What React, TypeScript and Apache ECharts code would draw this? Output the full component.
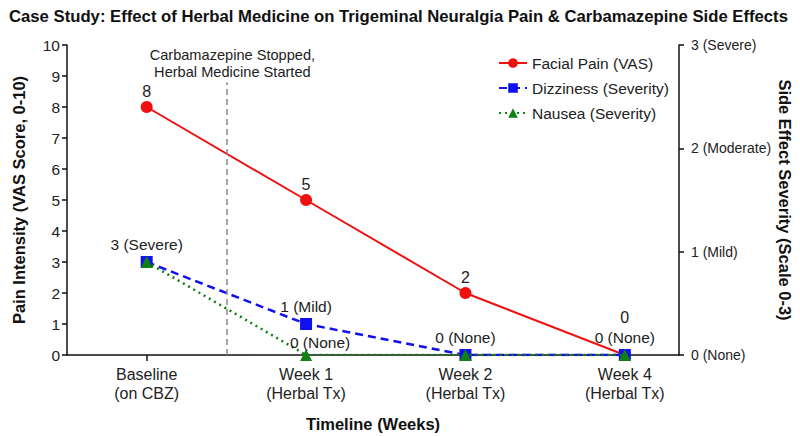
import React, { useEffect, useRef } from "react";
import * as echarts from "echarts";

const categories = ["Baseline\n(on CBZ)", "Week 1\n(Herbal Tx)", "Week 2\n(Herbal Tx)", "Week 4\n(Herbal Tx)"];
const painValues = [8, 5, 2, 0];
const dizzinessValues = [3, 1, 0, 0];
const nauseaValues = [3, 0, 0, 0];
const dizzinessLabels = ["3 (Severe)", "1 (Mild)", "0 (None)", "0 (None)"];
const nauseaLabels = ["", "0 (None)", "", ""];
const leftTicks = [0, 1, 2, 3, 4, 5, 6, 7, 8, 9, 10];
const severityTickLabels = ["0 (None)", "1 (Mild)", "2 (Moderate)", "3 (Severe)"];
const transitionX = 0.5;
const transitionText = "Carbamazepine Stopped,\nHerbal Medicine Started";

const FONT = "Liberation Sans, Arial, Helvetica, sans-serif";

export default function App() {
  const ref = useRef<HTMLDivElement>(null);
  useEffect(() => {
    document.body.style.margin = "0";
    if (!ref.current) return;
    const chart = echarts.init(ref.current, null, { renderer: "svg" });
    const xIdx = categories.map((_, i) => i);
    chart.setOption({
      animation: false,
      backgroundColor: "#fff",
      textStyle: { fontFamily: FONT },
      title: {
        text: "Case Study: Effect of Herbal Medicine on Trigeminal Neuralgia Pain & Carbamazepine Side Effects",
        left: 4,
        top: 3,
        textStyle: { fontFamily: FONT, fontSize: 16.7, fontWeight: "bold", color: "#111" },
      },
      legend: {
        orient: "vertical",
        left: 493,
        top: 50,
        itemWidth: 28,
        itemHeight: 12,
        itemGap: 9,
        textStyle: { fontFamily: FONT, fontSize: 15.5, color: "#222" },
        data: ["Facial Pain (VAS)", "Dizziness (Severity)", "Nausea (Severity)"],
      },
      grid: { left: 67, right: 121, top: 45, bottom: 81, containLabel: false, outerBoundsMode: "none" },
      xAxis: {
        type: "value",
        min: -0.5,
        max: 3.34,
        name: "Timeline (Weeks)",
        nameLocation: "middle",
        nameGap: 60,
        nameTextStyle: { fontFamily: FONT, fontSize: 16.5, fontWeight: "bold", color: "#111" },
        axisLine: { onZero: false, lineStyle: { color: "#111", width: 1.5 } },
        axisTick: { customValues: xIdx, length: 6, lineStyle: { color: "#111", width: 1.5 } },
        axisLabel: {
          customValues: xIdx,
          formatter: (v: number) => categories[Math.round(v)] ?? "",
          fontFamily: FONT,
          fontSize: 16,
          lineHeight: 19,
          color: "#222",
          margin: 10,
        },
        splitLine: { show: false },
      },
      yAxis: [
        {
          type: "value",
          min: 0,
          max: 10,
          interval: 1,
          name: "Pain Intensity (VAS Score, 0-10)",
          nameLocation: "middle",
          nameGap: 40,
          nameTextStyle: { fontFamily: FONT, fontSize: 16.5, fontWeight: "bold", color: "#111" },
          axisLine: { show: true, onZero: false, lineStyle: { color: "#111", width: 1.5 } },
          axisTick: { show: true, length: 5, lineStyle: { color: "#111", width: 1.5 } },
          axisLabel: {
            fontFamily: FONT,
            fontSize: 15.5,
            color: "#222",
            margin: 7,
            formatter: (v: number) => (leftTicks.includes(v) ? String(v) : ""),
          },
          splitLine: { show: false },
        },
        {
          type: "value",
          min: 0,
          max: 3,
          interval: 1,
          position: "right",
          name: "Side Effect Severity (Scale 0-3)",
          nameLocation: "middle",
          nameGap: 97,
          nameMoveOverlap: false,
          nameRotate: -90,
          nameTextStyle: { fontFamily: FONT, fontSize: 16.5, fontWeight: "bold", color: "#111" },
          axisLine: { show: true, onZero: false, lineStyle: { color: "#111", width: 1.5 } },
          axisTick: { show: true, length: 5, lineStyle: { color: "#111", width: 1.5 } },
          axisLabel: {
            fontFamily: FONT,
            fontSize: 14,
            color: "#222",
            margin: 12,
            formatter: (v: number) => severityTickLabels[Math.round(v)] ?? "",
          },
          splitLine: { show: false },
        },
      ],
      series: [
        {
          name: "Facial Pain (VAS)",
          type: "line",
          yAxisIndex: 0,
          data: painValues.map((v, i) =>
            i === painValues.length - 1
              ? { value: [i, v], label: { offset: [0, -22] } }
              : { value: [i, v] }
          ),
          symbol: "circle",
          symbolSize: 12,
          itemStyle: { color: "#f01010" },
          lineStyle: { color: "#f01010", width: 2 },
          label: {
            show: true,
            position: "top",
            distance: 2,
            fontFamily: FONT,
            fontSize: 16,
            color: "#222",
            formatter: (p: any) => String(p.value[1]),
          },
          z: 3,
          markLine: {
            silent: true,
            symbol: "none",
            lineStyle: { color: "#888", type: [6, 4], width: 1.5 },
            label: {
              show: true,
              position: "end",
              distance: 2,
              offset: [6, 0],
              formatter: transitionText,
              fontFamily: FONT,
              fontSize: 14.6,
              lineHeight: 17,
              color: "#222",
            },
            data: [[{ coord: [transitionX, 0] }, { coord: [transitionX, 8.8] }]],
          },
        },
        {
          name: "Dizziness (Severity)",
          type: "line",
          yAxisIndex: 0,
          data: dizzinessValues.map((v, i) => [i, v]),
          symbol: "rect",
          symbolSize: 12,
          itemStyle: { color: "#1010f0" },
          lineStyle: { color: "#1010f0", width: 2.5, type: [8, 5] },
          label: {
            show: true,
            position: "top",
            distance: 4,
            fontFamily: FONT,
            fontSize: 15.5,
            color: "#222",
            formatter: (p: any) => dizzinessLabels[p.dataIndex],
          },
          z: 4,
        },
        {
          name: "Nausea (Severity)",
          type: "line",
          yAxisIndex: 0,
          data: nauseaValues.map((v, i) =>
            i === 1 ? { value: [i, v], label: { offset: [14, 5] } } : { value: [i, v] }
          ),
          symbol: "triangle",
          symbolSize: 12,
          itemStyle: { color: "#108010" },
          lineStyle: { color: "#108010", width: 2.5, type: [2, 4] },
          label: {
            show: true,
            position: "top",
            distance: 4,
            fontFamily: FONT,
            fontSize: 15.5,
            color: "#222",
            formatter: (p: any) => nauseaLabels[p.dataIndex],
          },
          z: 5,
        },
      ],
    });
    return () => chart.dispose();
  }, []);
  return <div ref={ref} style={{ width: 800, height: 436 }} />;
}
